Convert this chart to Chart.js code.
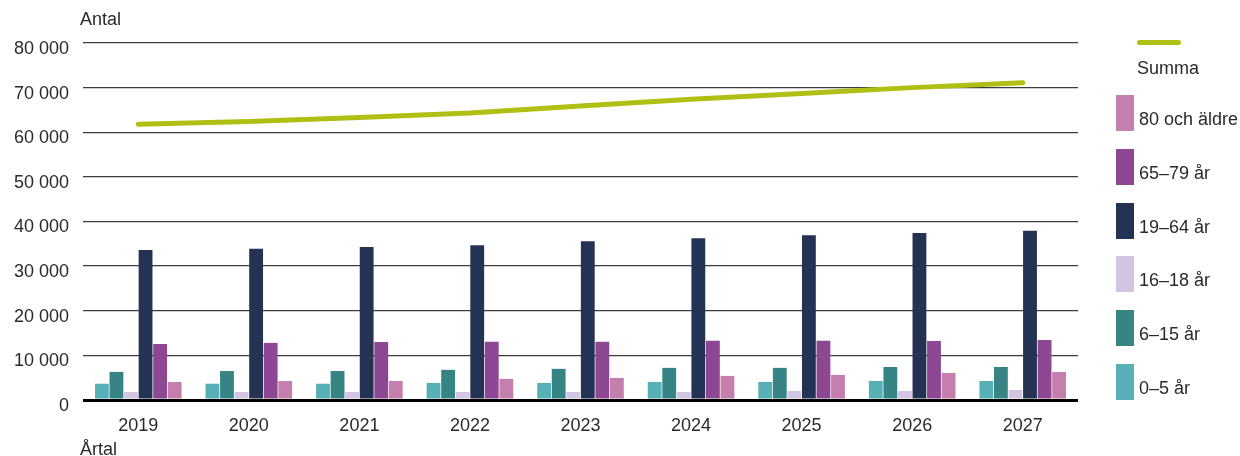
<!DOCTYPE html>
<html>
<head>
<meta charset="utf-8">
<script src="https://cdn.jsdelivr.net/npm/chart.js@4.4.1/dist/chart.umd.min.js"></script>
<style>
  html, body { margin: 0; padding: 0; background: #fff; }
  body { width: 1240px; height: 456px; position: relative; overflow: hidden;
         font-family: "Liberation Sans", Arial, sans-serif; color: #2a2a2a; }
  #wrap { position: absolute; left: 0; top: 0; width: 1240px; height: 456px; }
  .axt { position: absolute; font-size: 18px; }
  .leg { position: absolute; font-size: 18px; white-space: nowrap; }
  .box { position: absolute; width: 18px; height: 36px; }
</style>
</head>
<body>
<div id="wrap"><canvas id="chart" width="1240" height="456"></canvas></div>
<div class="axt" style="left:80px; top:9px;">Antal</div>
<div class="axt" style="left:80px; top:439px;">Årtal</div>
<div id="legend"></div>
<script>
// data
const years = ["2019", "2020", "2021", "2022", "2023", "2024", "2025", "2026", "2027"];
const seriesNames = ["0–5 år", "6–15 år", "16–18 år", "19–64 år", "65–79 år", "80 och äldre"];
const age0_5   = [3650, 3650, 3650, 3830, 3830, 4050, 4050, 4260, 4260];
const age6_15  = [6300, 6500, 6500, 6750, 6980, 7200, 7200, 7400, 7400];
const age16_18 = [1800, 1800, 1800, 1800, 1800, 1800, 2030, 2030, 2250];
const age19_64 = [33600, 33900, 34300, 34700, 35600, 36260, 36900, 37440, 37900];
const age65_79 = [12550, 12800, 13000, 13050, 13050, 13280, 13280, 13230, 13450];
const age80    = [4030, 4260, 4260, 4730, 4950, 5400, 5630, 6050, 6280];
const summa    = [61800, 62400, 63300, 64300, 65900, 67400, 68700, 70000, 71100];
const yTicks = [0, 10000, 20000, 30000, 40000, 50000, 60000, 70000, 80000];

const barColors = ["#57b0b5", "#368584", "#d3c5e2", "#243253", "#8e4793", "#c57fad"];
const lineColor = "#afbf13";
const barSeries = [age0_5, age6_15, age16_18, age19_64, age65_79, age80];

const fmt = v => String(v).replace(/\B(?=(\d{3})+(?!\d))/g, " ");

const datasets = [{
    type: "line",
    label: "Summa",
    data: summa,
    borderColor: lineColor,
    borderWidth: 5,
    borderCapStyle: "round",
    pointRadius: 0,
    tension: 0,
    order: 0
}];
barSeries.forEach((d, i) => {
    datasets.push({
        type: "bar",
        label: seriesNames[i],
        data: d,
        backgroundColor: barColors[i],
        categoryPercentage: 0.79,
        barPercentage: 0.95,
        order: 1
    });
});

new Chart(document.getElementById("chart"), {
    type: "bar",
    data: { labels: years, datasets },
    options: {
        responsive: false,
        animation: false,
        layout: { padding: { top: 43, right: 162, left: 0, bottom: 0 } },
        plugins: { legend: { display: false }, tooltip: { enabled: false } },
        scales: {
            x: {
                grid: { display: false },
                border: { display: false },
                ticks: { color: "#2a2a2a", font: { size: 18, family: "Liberation Sans" }, padding: 7 },
                afterFit: s => { s.height = 56; }
            },
            y: {
                min: 0, max: 80000,
                afterBuildTicks: s => { s.ticks = yTicks.map(v => ({ value: v })); },
                border: { display: false },
                grid: {
                    drawTicks: false,
                    color: c => c.tick && c.tick.value === 0 ? "#000" : "#3c3c3c",
                    lineWidth: c => c.tick && c.tick.value === 0 ? 3 : 1.3
                },
                ticks: {
                    color: "#2a2a2a",
                    font: { size: 18, family: "Liberation Sans" },
                    padding: 14,
                    labelOffset: 6,
                    callback: v => fmt(v)
                },
                afterFit: s => { s.width = 83; }
            }
        }
    }
});

// legend, built from the same names/colours
const legend = document.getElementById("legend");
const lineItem = document.createElement("div");
lineItem.innerHTML =
    '<div style="position:absolute;left:1137px;top:40px;width:44px;height:5px;border-radius:3px;background:' + lineColor + '"></div>' +
    '<div class="leg" style="left:1137px;top:58px;">Summa</div>';
legend.appendChild(lineItem);
for (let k = 0; k < seriesNames.length; k++) {
    const i = seriesNames.length - 1 - k;
    const top = 95 + k * 53.8;
    const el = document.createElement("div");
    el.innerHTML =
        '<div class="box" style="left:1116px;top:' + top + 'px;background:' + barColors[i] + '"></div>' +
        '<div class="leg" style="left:1139px;top:' + (top + 14) + 'px;">' + seriesNames[i] + '</div>';
    legend.appendChild(el);
}
</script>
</body>
</html>
